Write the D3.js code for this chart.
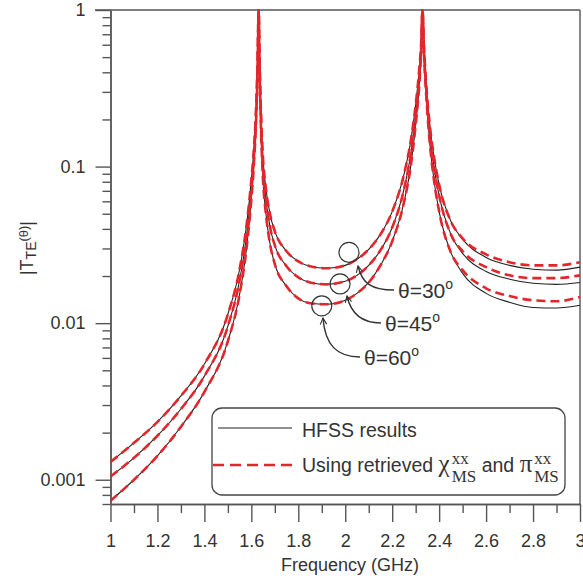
<!DOCTYPE html>
<html>
<head>
<meta charset="utf-8">
<script src="https://cdn.jsdelivr.net/npm/d3@7"></script>
<style>
body { margin: 0; background: #fff; }
svg { font-family: "Liberation Sans", Arial, sans-serif; }
text { fill: #333; white-space: pre; }
.axis path, .axis line { stroke: #555; stroke-width: 1.4; }
</style>
</head>
<body>
<div id="chart"></div>
<script>
// frequency samples (GHz), denser around the two resonances
var freq = [1.00, 1.10, 1.20, 1.30, 1.40, 1.50, 1.55, 1.58, 1.60, 1.61, 1.62,
    1.625, 1.628, 1.631, 1.634, 1.637, 1.642,
    1.65, 1.66, 1.68, 1.70, 1.75,
    1.80, 1.85, 1.92, 2.00, 2.05,
    2.10, 2.15, 2.20, 2.25, 2.28,
    2.30, 2.315, 2.324, 2.329, 2.335,
    2.345, 2.36, 2.38, 2.40, 2.45,
    2.50, 2.60, 2.70, 2.80, 2.90, 3.00];

// HFSS results |T_TE|
var hfss30 = [0.00130, 0.00172, 0.00234, 0.00343, 0.00548, 0.0114, 0.0221, 0.0428, 0.0826, 0.125, 0.231,
    0.385, 0.625, 1.0, 0.598, 0.358, 0.199,
    0.111, 0.0767, 0.0494, 0.0386, 0.0288,
    0.0248, 0.0231, 0.0224, 0.0234, 0.0256,
    0.0296, 0.0369, 0.0516, 0.0889, 0.149,
    0.248, 0.415, 0.644, 1.0, 0.598,
    0.333, 0.185, 0.111, 0.0767, 0.0447,
    0.0343, 0.0263, 0.0234, 0.0221, 0.0218, 0.0228];
var hfss45 = [0.00105, 0.00138, 0.00191, 0.00283, 0.00459, 0.00957, 0.0188, 0.0364, 0.0714, 0.111, 0.211,
    0.358, 0.598, 1.0, 0.573, 0.333, 0.180,
    0.0957, 0.0653, 0.0408, 0.0314, 0.0231,
    0.0196, 0.0182, 0.0177, 0.0185, 0.0202,
    0.0234, 0.0292, 0.0408, 0.0714, 0.123,
    0.214, 0.369, 0.607, 1.0, 0.573,
    0.309, 0.165, 0.0957, 0.0653, 0.0369,
    0.0279, 0.0214, 0.0191, 0.0180, 0.0177, 0.0182];
var hfss60 = [0.000735, 0.00100, 0.00142, 0.00218, 0.00364, 0.00767, 0.0153, 0.0305, 0.0617, 0.0986, 0.194,
    0.333, 0.573, 1.0, 0.540, 0.301, 0.157,
    0.0802, 0.0532, 0.0318, 0.0238, 0.0172,
    0.0144, 0.0134, 0.0132, 0.0140, 0.0155,
    0.0182, 0.0234, 0.0333, 0.0590, 0.103,
    0.185, 0.328, 0.573, 1.0, 0.540,
    0.283, 0.142, 0.0780, 0.0516, 0.0283,
    0.0208, 0.0155, 0.0136, 0.0126, 0.0125, 0.0130];

// retrieved-parameter curves: same as HFSS up to 2.45 GHz, then slightly higher
var retr30 = hfss30.slice(0, 42).concat([0.0348, 0.0275, 0.0245, 0.0234, 0.0234, 0.0245]);
var retr45 = hfss45.slice(0, 42).concat([0.0288, 0.0228, 0.0202, 0.0194, 0.0194, 0.0202]);
var retr60 = hfss60.slice(0, 42).concat([0.0218, 0.0167, 0.0149, 0.0140, 0.0138, 0.0147]);

var xTicks = [1, 1.2, 1.4, 1.6, 1.8, 2, 2.2, 2.4, 2.6, 2.8, 3];
var yTicks = [1, 0.1, 0.01, 0.001];
var angleLabels = ["30", "45", "60"];

var sans = "'Liberation Sans', Arial, sans-serif";
var serif = "'Liberation Serif', 'Times New Roman', serif";

var svg = d3.select("#chart").append("svg")
    .attr("width", 583)
    .attr("height", 584);

var x = d3.scaleLinear().domain([1, 3]).range([110.5, 580]);
var y = d3.scaleLog().domain([0.0007, 1]).range([504, 10]);

// frame: top and right edges
svg.append("line").attr("x1", 95).attr("x2", 580).attr("y1", 10).attr("y2", 10)
    .attr("stroke", "#555").attr("stroke-width", 1.4);
svg.append("line").attr("x1", 580).attr("x2", 580).attr("y1", 10).attr("y2", 504)
    .attr("stroke", "#555").attr("stroke-width", 1.4);

// minor ticks
var yMinor = [];
[0.0001, 0.001, 0.01, 0.1].forEach(function(d) {
    for (var k = 2; k <= 9; k++) {
        var v = d * k;
        if (v >= 0.0007 && v < 1) yMinor.push(v);
    }
});
svg.append("g").attr("class", "axis")
    .attr("transform", "translate(110.5,0)")
    .call(d3.axisLeft(y).tickValues(yMinor).tickSize(8).tickSizeOuter(0).tickFormat(""));
svg.append("g").attr("class", "axis")
    .attr("transform", "translate(0,504)")
    .call(d3.axisBottom(x).tickValues(d3.range(1.1, 3, 0.2)).tickSize(9).tickSizeOuter(0).tickFormat(""));

// major ticks with labels
svg.append("g").attr("class", "axis")
    .attr("transform", "translate(110.5,0)")
    .call(d3.axisLeft(y).tickValues(yTicks).tickSize(15).tickSizeOuter(0).tickPadding(10)
        .tickFormat(function(d) { return String(d); }));
svg.append("g").attr("class", "axis")
    .attr("transform", "translate(0,504)")
    .call(d3.axisBottom(x).tickValues(xTicks).tickSize(18).tickSizeOuter(0).tickPadding(12)
        .tickFormat(function(d) { return String(d); }));
svg.selectAll(".axis text").attr("font-size", 18).attr("fill", "#333")
    .attr("font-family", sans);

// axis titles
svg.append("text")
    .attr("x", 350).attr("y", 571)
    .attr("text-anchor", "middle")
    .attr("font-size", 18)
    .text("Frequency (GHz)");

var yt = svg.append("text")
    .attr("transform", "translate(33,248) rotate(-90)")
    .attr("text-anchor", "middle")
    .attr("font-size", 18);
yt.append("tspan").text("|T");
yt.append("tspan").attr("font-size", 14).attr("dy", 3).text("TE");
yt.append("tspan").attr("font-size", 13).attr("dy", -8).text("(θ)");
yt.append("tspan").attr("dy", 5).text("|");

// curves
svg.append("clipPath").attr("id", "plotclip")
    .append("rect").attr("x", 110.5).attr("y", 9).attr("width", 470).attr("height", 496);

var line = d3.line()
    .x(function(d) { return x(d[0]); })
    .y(function(d) { return y(d[1]); })
    .curve(d3.curveMonotoneX);

function pairs(vals) {
    return freq.map(function(f, i) { return [f, vals[i]]; });
}

var plot = svg.append("g").attr("clip-path", "url(#plotclip)");

plot.selectAll(".hfss")
    .data([hfss30, hfss45, hfss60])
    .enter().append("path")
    .attr("class", "hfss")
    .attr("d", function(d) { return line(pairs(d)); })
    .attr("fill", "none")
    .attr("stroke", "#222")
    .attr("stroke-width", 1.1);

plot.selectAll(".retr")
    .data([retr30, retr45, retr60])
    .enter().append("path")
    .attr("class", "retr")
    .attr("d", function(d) { return line(pairs(d)); })
    .attr("fill", "none")
    .attr("stroke", "#e4262c")
    .attr("stroke-width", 2.6)
    .attr("stroke-dasharray", "9,5");

// annotations: circle on curve, curved arrow, angle label
var defs = svg.append("defs");
defs.append("marker")
    .attr("id", "arrow")
    .attr("viewBox", "0 0 10 10")
    .attr("refX", 9).attr("refY", 5)
    .attr("markerWidth", 8).attr("markerHeight", 8)
    .attr("markerUnits", "userSpaceOnUse")
    .attr("orient", "auto-start-reverse")
    .append("path")
    .attr("d", "M1,1 L9,5 L1,9")
    .attr("fill", "none")
    .attr("stroke", "#333")
    .attr("stroke-width", 1.4);

var annot = [
    { f: 2.016, v: 0.0283, path: "M358,266 C362,283 371,290 394,290", tx: 398, ty: 298 },
    { f: 1.978, v: 0.0178, path: "M347,296 C351,314 362,323 381,323", tx: 385, ty: 331 },
    { f: 1.900, v: 0.0129, path: "M323,318 C325,345 337,357 360,357", tx: 364, ty: 365 }
];

var ag = svg.append("g").selectAll("g")
    .data(annot)
    .enter().append("g");

ag.append("circle")
    .attr("cx", function(d) { return x(d.f); })
    .attr("cy", function(d) { return y(d.v); })
    .attr("r", 10)
    .attr("fill", "none")
    .attr("stroke", "#333")
    .attr("stroke-width", 1.2);

ag.append("path")
    .attr("d", function(d) { return d.path; })
    .attr("fill", "none")
    .attr("stroke", "#333")
    .attr("stroke-width", 1.4)
    .attr("marker-start", "url(#arrow)");

var at = ag.append("text")
    .attr("x", function(d) { return d.tx; })
    .attr("y", function(d) { return d.ty; })
    .attr("font-size", 21);
at.append("tspan").text(function(d, i) { return "θ=" + angleLabels[i]; });
at.append("tspan").attr("font-size", 14).attr("dy", -9).text("o");

// legend
var lg = svg.append("g");
lg.append("rect")
    .attr("x", 212).attr("y", 408)
    .attr("width", 353).attr("height", 87)
    .attr("rx", 10)
    .attr("fill", "#fff")
    .attr("stroke", "#444")
    .attr("stroke-width", 1.3);
lg.append("line")
    .attr("x1", 218).attr("x2", 292).attr("y1", 428).attr("y2", 428)
    .attr("stroke", "#222").attr("stroke-width", 1.1);
lg.append("line")
    .attr("x1", 213).attr("x2", 292).attr("y1", 465).attr("y2", 465)
    .attr("stroke", "#e4262c").attr("stroke-width", 2.6)
    .attr("stroke-dasharray", "11,6");
lg.append("text")
    .attr("x", 302).attr("y", 437)
    .style("font-size", "19.5px")
    .text("HFSS results");

// "Using retrieved chi_MS^xx and pi_MS^xx"
var cx = 302, by = 472;
function put(str, size, family, dy) {
    var t = lg.append("text")
        .attr("x", cx).attr("y", by + (dy || 0))
        .style("font-size", size + "px")
        .style("font-family", family)
        .text(str);
    return t.node().getComputedTextLength();
}
cx += put("Using retrieved\u00a0", 19.5, sans);
cx += put("χ", 25, serif) + 2;
var w1 = put("xx", 17, serif, -8);
var w2 = put("MS", 17, serif, 10);
cx += Math.max(w1, w2);
cx += put("\u00a0and\u00a0", 19.5, sans);
cx += put("π", 25, serif) + 2;
put("xx", 17, serif, -8);
put("MS", 17, serif, 10);
</script>
</body>
</html>
